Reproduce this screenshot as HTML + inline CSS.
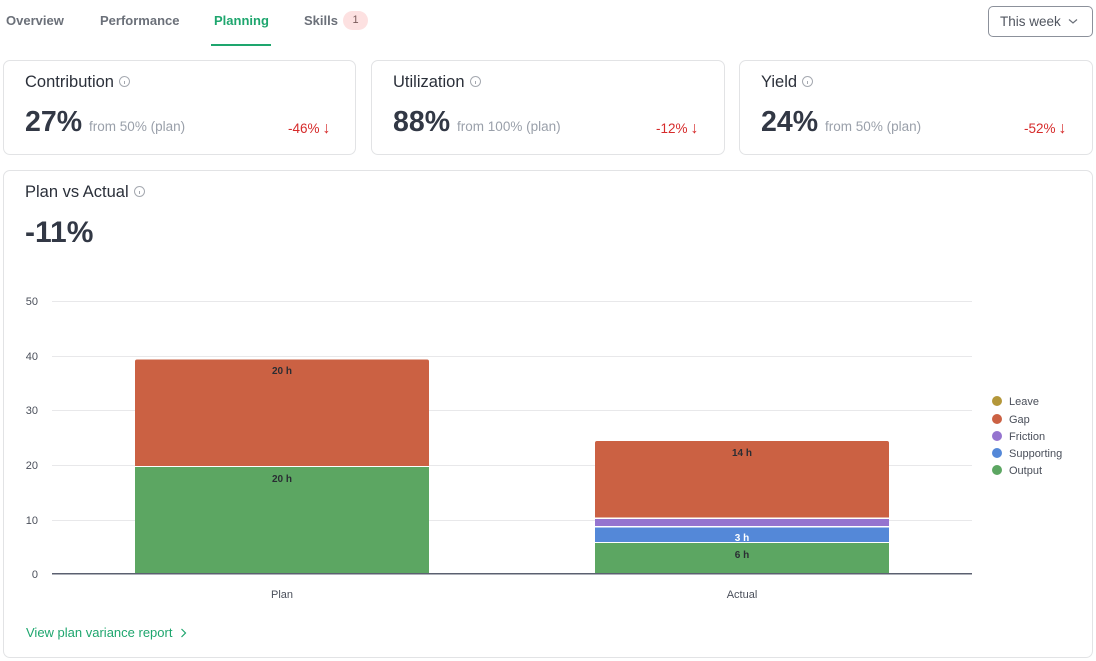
<!DOCTYPE html>
<html><head><meta charset="utf-8">
<style>
*{margin:0;padding:0;box-sizing:border-box}
html,body{width:1096px;height:661px;background:#fff;overflow:hidden;font-family:"Liberation Sans",sans-serif;color:#2d3340}
.abs{position:absolute}
.tab{position:absolute;top:13px;font-size:13px;font-weight:bold;color:#6b7079;white-space:nowrap}
.card{position:absolute;border:1px solid #e2e3e5;border-radius:7px;background:#fff}
.ttl{position:absolute;left:21px;top:12px;font-size:16.5px;color:#2b303a;white-space:nowrap}
.info{display:inline-block;width:11px;height:11px;border:1px solid #a5a9b0;border-radius:50%;vertical-align:0px;margin-left:5px;position:relative}
.info:after{content:"";position:absolute;left:4px;top:4px;width:1px;height:3px;background:#a5a9b0}
.big{position:absolute;left:21px;top:45px;font-size:28.5px;font-weight:bold;color:#323845;white-space:nowrap}
.big span{font-size:13.5px;font-weight:normal;color:#9aa0aa;margin-left:7px}
.delta{position:absolute;top:59px;font-size:13.5px;color:#d62b2b;white-space:nowrap}
.delta b{font-weight:normal;font-size:16px;margin-left:3px}
</style></head><body>
<div class="tab" style="left:6px">Overview</div>
<div class="tab" style="left:100px">Performance</div>
<div class="tab" style="left:214px;color:#1ea66e">Planning</div>
<div class="abs" style="left:211px;top:44px;width:60px;height:2px;background:#1ea66e"></div>
<div class="tab" style="left:304px">Skills</div>
<div class="abs" style="left:343px;top:11px;width:25px;height:19px;border-radius:10px;background:#fde1e1;font-size:11px;color:#7a5a5a;text-align:center;line-height:19px">1</div>
<div class="abs" style="left:988px;top:6px;width:105px;height:31px;border:1px solid #8c919b;border-radius:5px;font-size:13.5px;color:#50555f;line-height:29px;padding-left:11px">This week
<svg class="abs" style="left:79px;top:11px" width="10" height="7" viewBox="0 0 10 7"><path d="M1 1.5 L5 5 L9 1.5" fill="none" stroke="#6b7079" stroke-width="1.2"/></svg></div>

<div class="card" style="left:3px;top:60px;width:353px;height:95px">
<div class="ttl">Contribution<span class="info"></span></div>
<div class="big">27%<span>from 50% (plan)</span></div>
<div class="delta" style="left:284px">-46%<b>&#8595;</b></div>
</div>
<div class="card" style="left:371px;top:60px;width:354px;height:95px">
<div class="ttl">Utilization<span class="info"></span></div>
<div class="big">88%<span>from 100% (plan)</span></div>
<div class="delta" style="left:284px">-12%<b>&#8595;</b></div>
</div>
<div class="card" style="left:739px;top:60px;width:354px;height:95px">
<div class="ttl">Yield<span class="info"></span></div>
<div class="big">24%<span>from 50% (plan)</span></div>
<div class="delta" style="left:284px">-52%<b>&#8595;</b></div>
</div>

<div class="card" style="left:3px;top:170px;width:1090px;height:488px">
<div class="ttl" style="top:12px">Plan vs Actual<span class="info"></span></div>
<div class="big" style="top:45px;font-size:30px">-11%</div>
<div class="abs" style="left:22px;top:454px;font-size:13px;color:#1ea66e;white-space:nowrap">View plan variance report
<svg style="margin-left:4px;vertical-align:-1px" width="7" height="10" viewBox="0 0 7 10"><path d="M1.5 1 L5.5 5 L1.5 9" fill="none" stroke="#1ea66e" stroke-width="1.2"/></svg></div>
</div>

<svg class="abs" style="left:0;top:0" width="1096" height="661" font-family="Liberation Sans, sans-serif">
<g stroke="#e8e8ea" stroke-width="1">
<line x1="52" x2="972" y1="301.5" y2="301.5"/>
<line x1="52" x2="972" y1="356.5" y2="356.5"/>
<line x1="52" x2="972" y1="410.5" y2="410.5"/>
<line x1="52" x2="972" y1="465.5" y2="465.5"/>
<line x1="52" x2="972" y1="520.5" y2="520.5"/>
</g>
<g font-size="11" fill="#4a4f5a" text-anchor="end">
<text x="38" y="305">50</text>
<text x="38" y="360">40</text>
<text x="38" y="414">30</text>
<text x="38" y="469">20</text>
<text x="38" y="524">10</text>
<text x="38" y="578">0</text>
</g>
<!-- Plan -->
<path d="M135 573 V361.5 Q135 359.5 137 359.5 H427 Q429 359.5 429 361.5 V466 H135Z" fill="#cb6143"/>
<rect x="135" y="467" width="294" height="106" fill="#5ca662"/>
<!-- Actual -->
<path d="M595 517.5 V443 Q595 441 597 441 H887 Q889 441 889 443 V517.5Z" fill="#cb6143"/>
<rect x="595" y="519" width="294" height="7" fill="#9574cf"/>
<rect x="595" y="527.5" width="294" height="14.5" fill="#5488d8"/>
<rect x="595" y="543" width="294" height="30" fill="#5ca662"/>
<line x1="52" x2="972" y1="573.8" y2="573.8" stroke="#5b6070" stroke-width="1.5"/>
<g font-size="10" font-weight="bold" fill="#2a2d33" text-anchor="middle">
<text x="282" y="374">20 h</text>
<text x="282" y="482">20 h</text>
<text x="742" y="456">14 h</text>
<text x="742" y="541" fill="#ffffff">3 h</text>
<text x="742" y="558">6 h</text>
</g>
<g font-size="11" fill="#4a4f5a" text-anchor="middle">
<text x="282" y="598">Plan</text>
<text x="742" y="598">Actual</text>
</g>
<g font-size="11" fill="#4a4f5a">
<circle cx="997" cy="401" r="5" fill="#b4973a"/><text x="1009" y="405">Leave</text>
<circle cx="997" cy="419" r="5" fill="#cb6143"/><text x="1009" y="423">Gap</text>
<circle cx="997" cy="436" r="5" fill="#9574cf"/><text x="1009" y="440">Friction</text>
<circle cx="997" cy="453" r="5" fill="#5488d8"/><text x="1009" y="457">Supporting</text>
<circle cx="997" cy="470" r="5" fill="#5ca662"/><text x="1009" y="474">Output</text>
</g>
</svg>
</body></html>
